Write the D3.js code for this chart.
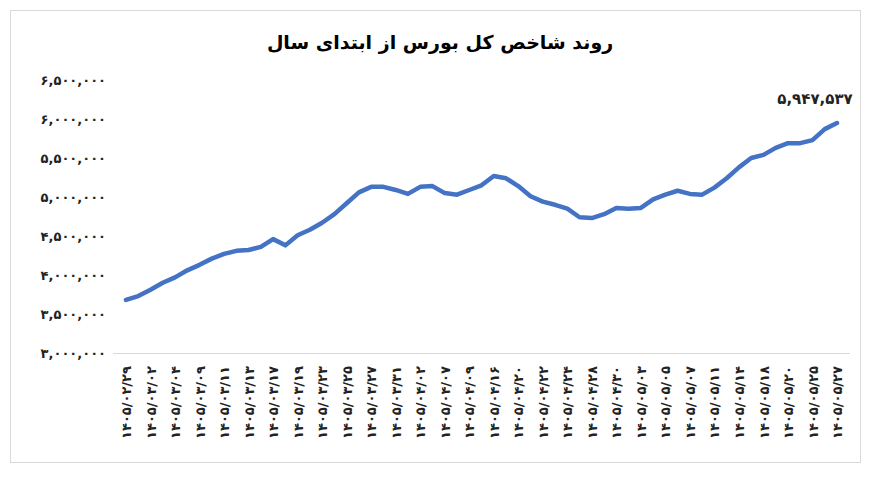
<!DOCTYPE html>
<html><head><meta charset="utf-8">
<script src="https://cdn.jsdelivr.net/npm/d3@7"></script>
<style>body{margin:0;background:#fff}svg{display:block}text{font-family:"DejaVu Sans",sans-serif}</style>
</head><body><svg id="c" width="893" height="483"></svg>
<script>
const title = "روند شاخص کل بورس از ابتدای سال";
const tickLabels = ["۱۴۰۵/۰۲/۲۹","۱۴۰۵/۰۳/۰۲","۱۴۰۵/۰۳/۰۴","۱۴۰۵/۰۳/۰۹","۱۴۰۵/۰۳/۱۱","۱۴۰۵/۰۳/۱۳","۱۴۰۵/۰۳/۱۷","۱۴۰۵/۰۳/۱۹","۱۴۰۵/۰۳/۲۳","۱۴۰۵/۰۳/۲۵","۱۴۰۵/۰۳/۲۷","۱۴۰۵/۰۳/۳۱","۱۴۰۵/۰۴/۰۲","۱۴۰۵/۰۴/۰۷","۱۴۰۵/۰۴/۰۹","۱۴۰۵/۰۴/۱۶","۱۴۰۵/۰۴/۲۰","۱۴۰۵/۰۴/۲۲","۱۴۰۵/۰۴/۲۴","۱۴۰۵/۰۴/۲۸","۱۴۰۵/۰۴/۳۰","۱۴۰۵/۰۵/۰۳","۱۴۰۵/۰۵/۰۵","۱۴۰۵/۰۵/۰۷","۱۴۰۵/۰۵/۱۱","۱۴۰۵/۰۵/۱۴","۱۴۰۵/۰۵/۱۸","۱۴۰۵/۰۵/۲۰","۱۴۰۵/۰۵/۲۵","۱۴۰۵/۰۵/۲۷"];
const values = [3680000,3730000,3810000,3900000,3970000,4060000,4130000,4210000,4270000,4310000,4320000,4360000,4460000,4380000,4510000,4580000,4670000,4780000,4920000,5060000,5130000,5130000,5090000,5040000,5130000,5140000,5050000,5030000,5090000,5150000,5270000,5240000,5140000,5010000,4940000,4900000,4850000,4740000,4730000,4780000,4860000,4850000,4860000,4970000,5030000,5080000,5040000,5030000,5120000,5240000,5380000,5500000,5540000,5630000,5690000,5690000,5730000,5870000,5947537];
const yTicks = [3000000,3500000,4000000,4500000,5000000,5500000,6000000,6500000];
const lastLabel = "۵,۹۴۷,۵۳۷";

const fa = s => String(s).replace(/\d/g, d => "۰۱۲۳۴۵۶۷۸۹"[d]);
const svg = d3.select("#c");
svg.append("rect").attr("x",10.5).attr("y",10.5).attr("width",850).attr("height",452).attr("fill","#fff").attr("stroke","#d9d9d9");
svg.append("text").attr("x",440).attr("y",49).attr("text-anchor","middle").attr("direction","rtl")
  .style("font-size","19px").style("font-weight","bold").text(title);

const x = d3.scaleLinear().domain([0, values.length-1]).range([126, 837]);
const y = d3.scaleLinear().domain([3000000, 6500000]).range([353, 80]);

const ya = svg.append("g").attr("transform","translate(106,0)")
  .call(d3.axisLeft(y).tickValues(yTicks).tickSize(0).tickPadding(0).tickFormat(v => fa(d3.format(",")(v))));
ya.select(".domain").remove();
ya.selectAll("text").style("font-size","13px").style("font-weight","bold").attr("fill","#222").attr("direction","ltr");

const xs = d3.scalePoint().domain(tickLabels.map((d,i)=>i)).range([126, 837]);
svg.append("line").attr("x1",113).attr("x2",850).attr("y1",353.5).attr("y2",353.5).attr("stroke","#d9d9d9");
const xa = svg.append("g").attr("transform","translate(0,353)")
  .call(d3.axisBottom(xs).tickSize(0).tickFormat(i => tickLabels[i]));
xa.select(".domain").remove();
xa.selectAll("text").attr("transform","rotate(-90)").attr("text-anchor","end").attr("x",-13).attr("y",0).attr("dy","0.35em")
  .attr("direction","ltr").style("font-size","13px").style("font-weight","bold").attr("fill","#222");

svg.append("path").datum(values).attr("fill","none").attr("stroke","#4472C4").attr("stroke-width",4.5)
  .attr("stroke-linejoin","round").attr("stroke-linecap","round")
  .attr("d", d3.line().x((d,i)=>x(i)).y(d=>y(d)));

svg.append("text").attr("x",x(values.length-1)-22).attr("y",y(values[values.length-1])-19).attr("text-anchor","middle")
  .attr("direction","ltr").style("font-size","15px").style("font-weight","bold").attr("fill","#222").text(lastLabel);
</script></body></html>
